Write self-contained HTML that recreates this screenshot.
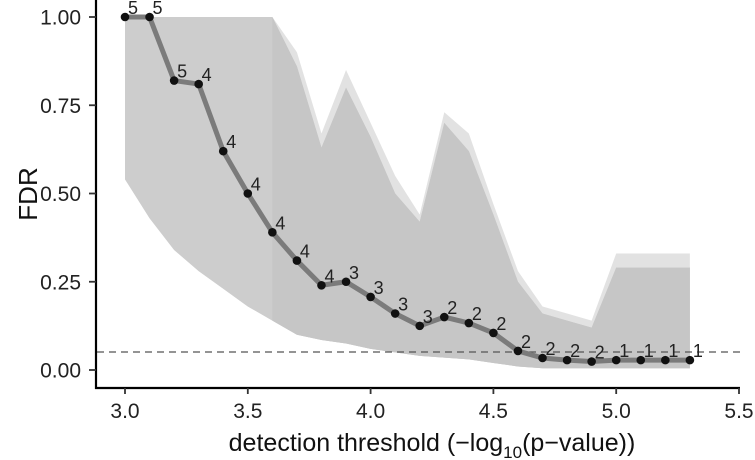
<!DOCTYPE html>
<html><head><meta charset="utf-8"><style>
body{margin:0;background:#fff}
svg{display:block;font-family:"Liberation Sans",sans-serif}
</style></head><body>
<svg id="chart" width="755" height="460" viewBox="0 0 755 460">
<g id="ribbons"></g>
<line x1="97" x2="745" y1="352" y2="352" stroke="#555" stroke-width="1.3" stroke-dasharray="7,5"/>
<g id="series"></g>
<line x1="96" x2="96" y1="0" y2="389" stroke="#000" stroke-width="2.2"/>
<line x1="95" x2="740" y1="388" y2="388" stroke="#000" stroke-width="2.2"/>
<g id="axes"></g>
<text transform="translate(37,194) rotate(-90)" text-anchor="middle" font-size="26" fill="#111">FDR</text>
<text x="432" y="451" text-anchor="middle" font-size="25" fill="#111">detection threshold (−log<tspan font-size="17" dy="7">10</tspan><tspan dy="-7">(p−value))</tspan></text>
</svg>
<script>
const thresholds=[3.0,3.1,3.2,3.3,3.4,3.5,3.6,3.7,3.8,3.9,4.0,4.1,4.2,4.3,4.4,4.5,4.6,4.7,4.8,4.9,5.0,5.1,5.2,5.3];
const fdr=[1.0,1.0,0.82,0.81,0.62,0.50,0.39,0.31,0.24,0.25,0.207,0.16,0.125,0.15,0.133,0.105,0.054,0.034,0.028,0.024,0.028,0.028,0.028,0.028];
const counts=[5,5,5,4,4,4,4,4,4,3,3,3,3,2,2,2,2,2,2,2,1,1,1,1];
const outerUpper=[1,1,1,1,1,1,1,0.90,0.67,0.85,0.70,0.55,0.44,0.73,0.67,0.47,0.28,0.18,0.16,0.14,0.33,0.33,0.33,0.33];
const innerUpper=[1,1,1,1,1,1,1,0.86,0.63,0.80,0.66,0.50,0.42,0.70,0.62,0.44,0.25,0.16,0.14,0.12,0.29,0.29,0.29,0.29];
const lower=[0.54,0.43,0.34,0.28,0.23,0.18,0.14,0.10,0.085,0.075,0.06,0.05,0.04,0.035,0.03,0.02,0.01,0.005,0.005,0.005,0.005,0.005,0.005,0.005];
const xTicks=[3.0,3.5,4.0,4.5,5.0,5.5];
const yTicks=[0,0.25,0.5,0.75,1.0];
const yTickLabels=["0.00","0.25","0.50","0.75","1.00"];
const NS="http://www.w3.org/2000/svg";
const X=v=>125+(v-3)*245.6, Y=v=>370-v*353;
function mk(tag,attrs,parent){const e=document.createElementNS(NS,tag);for(const k in attrs)e.setAttribute(k,attrs[k]);parent.appendChild(e);return e;}
const rib=document.getElementById('ribbons');
function band(up,lo,from,fill,name){
  let pts=[];for(let i=from;i<thresholds.length;i++)pts.push(X(thresholds[i])+','+Y(up[i]));
  for(let i=thresholds.length-1;i>=from;i--)pts.push(X(thresholds[i])+','+Y(lo[i]));
  const p=mk('polygon',{points:pts.join(' '),fill:fill},rib);
  
  
}
band(outerUpper,lower,0,'#e2e2e2','outer-ribbon');
band(innerUpper,lower,0,'#cdcdcd','inner-ribbon');
const i36=thresholds.indexOf(3.6);
band(innerUpper,lower,i36,'#c6c6c6','inner-ribbon-overlap');
const ser=document.getElementById('series');
const line=mk('polyline',{points:thresholds.map((t,i)=>X(t)+','+Y(fdr[i])).join(' '),fill:'none',stroke:'#7b7b7b','stroke-width':5,'stroke-linejoin':'round'},ser);


thresholds.forEach((t,i)=>{
  const c=mk('circle',{cx:X(t),cy:Y(fdr[i]),r:4.3,fill:'#111'},ser);
  
  
  const tx=mk('text',{x:X(t)+3,y:Y(fdr[i])-3,'font-size':18,fill:'#222'},ser);
  tx.textContent=counts[i];
  
  
});
const ax=document.getElementById('axes');
xTicks.forEach(t=>{
  const l=mk('line',{x1:X(t),x2:X(t),y1:388,y2:394,stroke:'#333','stroke-width':1.8},ax);
  
  
  const tx=mk('text',{x:X(t),y:418,'text-anchor':'middle','font-size':21,fill:'#222'},ax);
  tx.textContent=t.toFixed(1);
  
  
});
yTicks.forEach((t,i)=>{
  const l=mk('line',{x1:89,x2:96,y1:Y(t),y2:Y(t),stroke:'#333','stroke-width':1.8},ax);
  
  
  const tx=mk('text',{x:81,y:Y(t)+7.5,'text-anchor':'end','font-size':21,fill:'#222'},ax);
  tx.textContent=yTickLabels[i];
  
  
});
</script>
</body></html>
